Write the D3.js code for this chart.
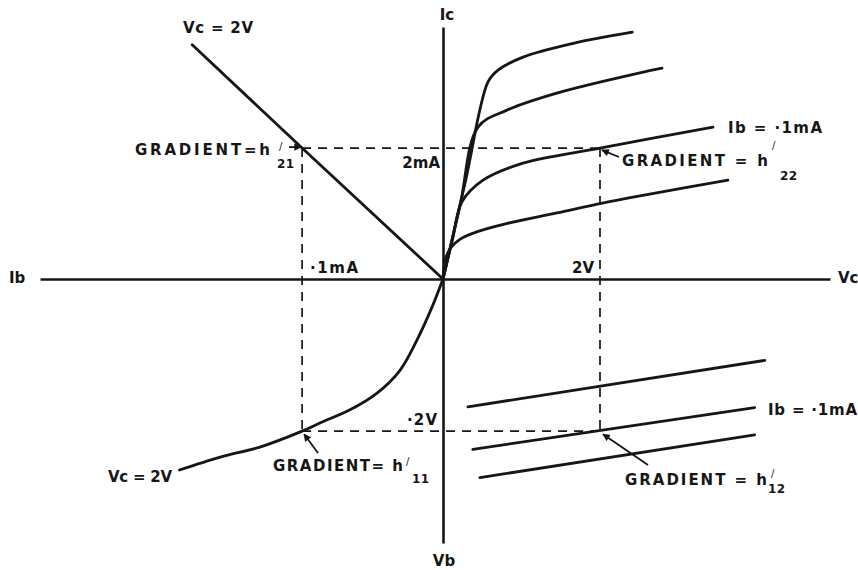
<!DOCTYPE html>
<html>
<head>
<meta charset="utf-8">
<script src="https://cdn.jsdelivr.net/npm/d3@7"></script>
<style>
  html, body { margin: 0; padding: 0; background: #ffffff; }
  svg { display: block; }
  text { font-family: "DejaVu Sans", sans-serif; font-weight: bold; fill: #161616; }
</style>
</head>
<body>
<svg id="chart" width="858" height="570"></svg>
<script>
// ---- Data -------------------------------------------------------------
// Quadrant I: output characteristics, Ic (mA) against Vc (V), one curve per base current
const outputCurveA = [[0,0],[0.287,1.50],[0.573,3.01],[0.70,3.19],[1.02,3.39],[1.66,3.60],[2.41,3.77]];
const outputCurveB = [[0,0],[0.22,1.14],[0.446,2.32],[0.815,2.58],[1.45,2.84],[2.51,3.15],[2.79,3.22]];
const outputCurveC = [[0,0],[0.12,0.60],[0.242,1.18],[0.51,1.51],[1.02,1.77],[2.0,2.0],[3.44,2.32]];
const outputCurveD = [[0,0],[0.03,0.30],[0.10,0.48],[0.22,0.61],[0.43,0.72],[0.82,0.85],[1.45,1.01],[2.03,1.16],[2.51,1.27],[3.63,1.51]];

// Quadrant II: current transfer, Ic (mA) against Ib (mA) at Vc = 2V
const transferLine = [[0,0],[0.1,2.0],[0.178,3.58]];

// Quadrant III: input characteristic, Vb (V) against Ib (mA) at Vc = 2V
const inputCurve = [[0,0],[0.0078,0.037],[0.0184,0.080],[0.0305,0.120],[0.0468,0.150],
                    [0.066,0.172],[0.087,0.189],[0.1,0.2],[0.130,0.221],[0.158,0.234],[0.187,0.251]];

// Quadrant IV: feedback characteristics, Vb (V) against Vc (V)
const feedbackLineA = [[0.318,0.168],[4.10,0.107]];
const feedbackLineB = [[0.38,0.224],[3.97,0.169]];
const feedbackLineC = [[0.47,0.261],[3.97,0.205]];

// Operating point: Ib = 0.1 mA, Ic = 2 mA, Vc = 2 V, Vb = 0.2 V
const operatingIb = [0.1];
const operatingIc = [2];
const operatingVc = [2];
const operatingVb = [0.2];

// Axis extents
const vcMax = 4.93, ibMax = 0.286, icMax = 3.85, vbMax = 0.347;

// ---- Scales -----------------------------------------------------------
const ox = 443, oy = 279;
const xVc = d3.scaleLinear().domain([0, vcMax]).range([ox, 830]);
const xIb = d3.scaleLinear().domain([0, ibMax]).range([ox, 40]);
const yIc = d3.scaleLinear().domain([0, icMax]).range([oy, 27]);
const yVb = d3.scaleLinear().domain([0, vbMax]).range([oy, 543]);

const ink = "#161616";
const svg = d3.select("#chart");

svg.append("defs").append("marker")
  .attr("id", "arrowhead")
  .attr("viewBox", "0 0 10 10")
  .attr("refX", 9).attr("refY", 5)
  .attr("markerWidth", 4.2).attr("markerHeight", 4.2)
  .attr("markerUnits", "strokeWidth")
  .attr("orient", "auto")
  .append("path").attr("d", "M0,0L10,5L0,10Z").attr("fill", ink);

// ---- Axes (four half-axes meeting at the origin) -----------------------
function styleAxis(g) {
  g.select(".domain").attr("stroke", ink).attr("stroke-width", 2.6);
}
svg.append("g").attr("transform", `translate(0,${oy})`)
  .call(d3.axisBottom(xVc).tickValues([]).tickSizeOuter(0)).call(styleAxis);
svg.append("g").attr("transform", `translate(0,${oy})`)
  .call(d3.axisBottom(xIb).tickValues([]).tickSizeOuter(0)).call(styleAxis);
svg.append("g").attr("transform", `translate(${ox},0)`)
  .call(d3.axisLeft(yIc).tickValues([]).tickSizeOuter(0)).call(styleAxis);
svg.append("g").attr("transform", `translate(${ox},0)`)
  .call(d3.axisLeft(yVb).tickValues([]).tickSizeOuter(0)).call(styleAxis);

// ---- Dashed construction lines through the operating point -------------
const ib0 = operatingIb[0], ic0 = operatingIc[0], vc0 = operatingVc[0], vb0 = operatingVb[0];
const dashed = [
  [[xIb(ib0), yIc(ic0)], [xVc(vc0), yIc(ic0)]],
  [[xIb(ib0), yIc(ic0)], [xIb(ib0), yVb(vb0)]],
  [[xVc(vc0), yIc(ic0)], [xVc(vc0), yVb(vb0)]],
  [[xIb(ib0), yVb(vb0)], [xVc(vc0), yVb(vb0)]]
];
svg.append("g").selectAll("line").data(dashed).join("line")
  .attr("x1", d => d[0][0]).attr("y1", d => d[0][1])
  .attr("x2", d => d[1][0]).attr("y2", d => d[1][1])
  .attr("stroke", ink).attr("stroke-width", 1.7)
  .attr("stroke-dasharray", "9,7");

// ---- Characteristic curves ---------------------------------------------
const curveStyle = sel => sel.attr("fill", "none").attr("stroke", ink)
  .attr("stroke-width", 2.8).attr("stroke-linecap", "round").attr("stroke-linejoin", "round");

const smooth = d3.curveCatmullRom.alpha(0.5);
const lineQ1 = d3.line().x(d => xVc(d[0])).y(d => yIc(d[1])).curve(smooth);
const lineQ2 = d3.line().x(d => xIb(d[0])).y(d => yIc(d[1]));
const lineQ3 = d3.line().x(d => xIb(d[0])).y(d => yVb(d[1])).curve(smooth);
const lineQ4 = d3.line().x(d => xVc(d[0])).y(d => yVb(d[1]));

svg.append("g").selectAll("path")
  .data([outputCurveA, outputCurveB, outputCurveC, outputCurveD]).join("path")
  .attr("d", lineQ1).call(curveStyle);
svg.append("path").datum(transferLine).attr("d", lineQ2).call(curveStyle);
svg.append("path").datum(inputCurve).attr("d", lineQ3).call(curveStyle);
svg.append("g").selectAll("path")
  .data([feedbackLineA, feedbackLineB, feedbackLineC]).join("path")
  .attr("d", lineQ4).call(curveStyle);

// ---- Pointer arrows to the gradient points -----------------------------
const arrows = [
  [[289, yIc(ic0) - 1], [xIb(ib0) - 1, yIc(ic0) - 1]],
  [[619, 157], [xVc(vc0) + 2, yIc(ic0) + 2]],
  [[318, 453], [xIb(ib0) + 2, yVb(vb0) + 3]],
  [[648, 465], [xVc(vc0) + 3, yVb(vb0) + 3]]
];
svg.append("g").selectAll("line").data(arrows).join("line")
  .attr("x1", d => d[0][0]).attr("y1", d => d[0][1])
  .attr("x2", d => d[1][0]).attr("y2", d => d[1][1])
  .attr("stroke", ink).attr("stroke-width", 1.8)
  .attr("marker-end", "url(#arrowhead)");

// ---- Labels ------------------------------------------------------------
// w: lettered width, spread evenly over the characters.
// p / s: prime and subscript of an h-parameter, drawn in the same text.
const labels = [
  { t: "Ic", x: 447, y: 20, a: "middle" },
  { t: "Vb", x: 444, y: 566, a: "middle" },
  { t: "Ib", x: 9, y: 283 },
  { t: "Vc", x: 838, y: 283 },
  { t: "Vc = 2V", x: 183, y: 33, w: 70 },
  { t: "GRADIENT=h", x: 135, y: 155, w: 135, p: [279, 150], s: ["21", 277, 168] },
  { t: "2mA", x: 440, y: 168, a: "end" },
  { t: "·1mA", x: 310, y: 273, w: 48 },
  { t: "2V", x: 572, y: 273 },
  { t: "Ib = ·1mA", x: 728, y: 133, w: 94 },
  { t: "GRADIENT = h", x: 622, y: 166, w: 146, p: [772, 149], s: ["22", 780, 180] },
  { t: "Vc = 2V", x: 108, y: 482, w: 64 },
  { t: "GRADIENT= h", x: 273, y: 471, w: 130, p: [406, 465], s: ["11", 412, 483] },
  { t: "·2V", x: 407, y: 425, w: 30 },
  { t: "Ib = ·1mA", x: 768, y: 415, w: 89 },
  { t: "GRADIENT = h", x: 625, y: 485, w: 142, p: [771, 477], s: ["12", 768, 493] }
];

labels.forEach(d => {
  const text = svg.append("text")
    .attr("x", d.x).attr("y", d.y)
    .attr("text-anchor", d.a || "start")
    .attr("font-size", 15);
  const main = text.append("tspan").text(d.t);
  if (d.w) {
    const natural = main.node().getComputedTextLength();
    const gap = (d.w - natural) / Math.max(1, d.t.length - 1);
    main.style("letter-spacing", `${gap}px`);
  }
  if (d.p) {
    text.append("tspan").attr("x", d.p[0]).attr("y", d.p[1])
      .attr("font-size", 10).attr("font-weight", "normal")
      .style("letter-spacing", "0px").text("/");
  }
  if (d.s) {
    text.append("tspan").attr("x", d.s[1]).attr("y", d.s[2])
      .attr("font-size", 12)
      .style("letter-spacing", "0.5px").text(d.s[0]);
  }
});
</script>
</body>
</html>
